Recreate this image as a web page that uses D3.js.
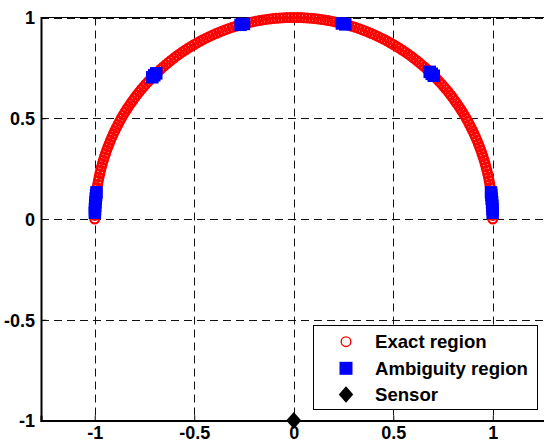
<!DOCTYPE html>
<html>
<head>
<meta charset="utf-8">
<script src="https://cdn.jsdelivr.net/npm/d3@7"></script>
<style>
  html, body { margin: 0; padding: 0; background: #fff; }
  svg { display: block; }
  text { font-family: "Liberation Sans", Arial, sans-serif; font-weight: bold; }
</style>
</head>
<body>
<svg id="chart" width="544" height="445"></svg>
<script>
// ---- Data ----
// Exact region: points on the unit upper semicircle, given by their angle in degrees
const exactAngles = [0,1,2,3,4,5,6,7,8,9,10,11,12,13,14,15,16,17,18,19,20,21,22,23,24,25,26,27,28,29,30,31,32,33,34,35,36,37,38,39,40,41,42,43,44,45,46,47,48,49,50,51,52,53,54,55,56,57,58,59,60,61,62,63,64,65,66,67,68,69,70,71,72,73,74,75,76,77,78,79,80,81,82,83,84,85,86,87,88,89,90,91,92,93,94,95,96,97,98,99,100,101,102,103,104,105,106,107,108,109,110,111,112,113,114,115,116,117,118,119,120,121,122,123,124,125,126,127,128,129,130,131,132,133,134,135,136,137,138,139,140,141,142,143,144,145,146,147,148,149,150,151,152,153,154,155,156,157,158,159,160,161,162,163,164,165,166,167,168,169,170,171,172,173,174,175,176,177,178,179,180];
// Ambiguity region: angles (degrees) on the same unit circle
const ambiguityAngles = [1.8,2.8,3.8,4.8,5.8,6.8,7.6, 45.3,46.1,46.9, 75,76, 104.5,105.5, 133.7,134.5,135.3, 172.4,173.2,174.2,175.2,176.2,177.2,178.2];
const sensorX = [0];
const sensorY = [-1];
const xTicks = [-1, -0.5, 0, 0.5, 1];
const yTicks = [-1, -0.5, 0, 0.5, 1];
const legendLabels = ["Exact region", "Ambiguity region", "Sensor"];

// ---- Layout ----
const svg = d3.select("#chart");
const x = d3.scaleLinear().domain([-1.27, 1.27]).range([41, 546.5]);
const y = d3.scaleLinear().domain([-1, 1]).range([420.5, 17.5]);
const rad = d => d * Math.PI / 180;
const fmt = v => String(v);
const crisp = v => Math.round(v) + 0.5;

// grid
const grid = svg.append("g").attr("stroke", "#111").attr("stroke-width", 1)
  .attr("stroke-dasharray", "8,5").attr("fill", "none");
grid.selectAll("line.v").data(xTicks).join("line").attr("class", "v")
  .attr("x1", d => crisp(x(d))).attr("x2", d => crisp(x(d)))
  .attr("y1", y(1)).attr("y2", y(-1));
grid.selectAll("line.h").data(yTicks).join("line").attr("class", "h")
  .attr("x1", x(-1.27)).attr("x2", x(1.27))
  .attr("y1", d => crisp(y(d))).attr("y2", d => crisp(y(d)));

// axes (ticks inside)
const xAxis = d3.axisBottom(x).tickValues(xTicks).tickSize(-5).tickPadding(6).tickFormat(fmt);
const yAxis = d3.axisLeft(y).tickValues(yTicks).tickSize(-5).tickPadding(6).tickFormat(fmt);
const gx = svg.append("g").attr("transform", `translate(0,${y(-1)})`).call(xAxis);
const gy = svg.append("g").attr("transform", `translate(${x(-1.27)},0)`).call(yAxis);
[gx, gy].forEach(g => {
  g.select(".domain").attr("stroke", "#000").attr("stroke-width", 2);
  g.selectAll(".tick line").attr("stroke", "#000");
  g.selectAll(".tick text").attr("fill", "#000").style("font-size", "18px")
    .style("font-family", '"Liberation Sans", Arial, sans-serif').style("font-weight", "bold");
});
gy.selectAll(".tick text").attr("dy", "0.36em");
gx.selectAll(".tick text").attr("dy", "0.72em");
// top border
svg.append("line").attr("x1", x(-1.27)).attr("x2", x(1.27))
  .attr("y1", y(1)).attr("y2", y(1)).attr("stroke", "#000").attr("stroke-width", 1);

// exact region circles
svg.append("g").selectAll("circle").data(exactAngles).join("circle")
  .attr("cx", d => x(Math.cos(rad(d))))
  .attr("cy", d => y(Math.sin(rad(d))))
  .attr("r", 4.4).attr("fill", "none").attr("stroke", "#ff0000").attr("stroke-width", 2.2);

// ambiguity squares
const sq = 12.5;
svg.append("g").selectAll("rect").data(ambiguityAngles).join("rect")
  .attr("x", d => x(Math.cos(rad(d))) - sq / 2)
  .attr("y", d => y(Math.sin(rad(d))) - sq / 2)
  .attr("width", sq).attr("height", sq).attr("fill", "#0000ff");

// sensor diamond
const diamond = (cx, cy, w, h) => `M${cx},${cy - h / 2}L${cx + w / 2},${cy}L${cx},${cy + h / 2}L${cx - w / 2},${cy}Z`;
svg.append("g").selectAll("path").data(sensorX.map((v, i) => [v, sensorY[i]])).join("path")
  .attr("d", d => diamond(x(d[0]), y(d[1]), 15, 17)).attr("fill", "#000");

// legend
const lg = svg.append("g");
lg.append("rect").attr("x", 313.5).attr("y", 325.5).attr("width", 224).attr("height", 84)
  .attr("fill", "#fff").attr("stroke", "#000").attr("stroke-width", 1);
const rowY = [341.7, 368.3, 394.5];
const mx = 346;
lg.append("circle").attr("cx", mx).attr("cy", rowY[0]).attr("r", 4.8)
  .attr("fill", "none").attr("stroke", "#ff0000").attr("stroke-width", 1.4);
lg.append("rect").attr("x", mx - 6.5).attr("y", rowY[1] - 6.5).attr("width", 13).attr("height", 13).attr("fill", "#0000ff");
lg.append("path").attr("d", diamond(mx, rowY[2], 14.5, 16.5)).attr("fill", "#000");
lg.selectAll("text").data(legendLabels).join("text")
  .attr("x", 375).attr("y", (d, i) => rowY[i] + 6.5)
  .style("font-size", "18.6px").attr("fill", "#000").text(d => d);
</script>
</body>
</html>
